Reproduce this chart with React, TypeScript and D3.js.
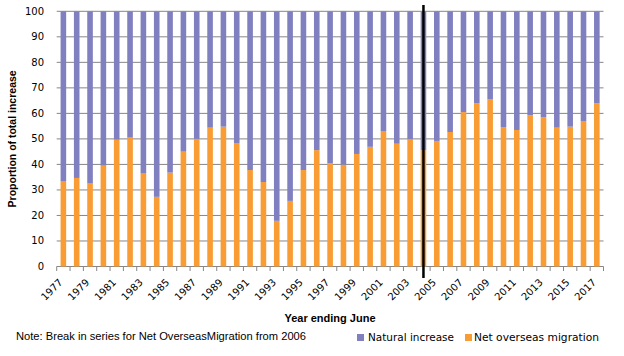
import React from "react";
import * as d3 from "d3";

const years = [
  "1977", "1978", "1979", "1980", "1981", "1982", "1983", "1984", "1985", "1986",
  "1987", "1988", "1989", "1990", "1991", "1992", "1993", "1994", "1995", "1996",
  "1997", "1998", "1999", "2000", "2001", "2002", "2003", "2004", "2005", "2006",
  "2007", "2008", "2009", "2010", "2011", "2012", "2013", "2014", "2015", "2016", "2017",
];

const netOverseasMigration = [
  33.5, 34.7, 32.5, 39.5, 49.7, 50.5, 36.4, 27.3, 36.8, 45.0,
  50.0, 54.4, 54.8, 48.4, 37.8, 33.1, 17.9, 25.7, 37.8, 45.6,
  40.5, 39.9, 44.1, 46.9, 53.1, 48.1, 49.9, 45.6, 49.2, 52.7,
  60.5, 64.0, 65.6, 54.6, 53.5, 59.3, 58.5, 54.4, 54.8, 57.0, 64.0,
];

const naturalIncrease = [
  66.5, 65.3, 67.5, 60.5, 50.3, 49.5, 63.6, 72.7, 63.2, 55.0,
  50.0, 45.6, 45.2, 51.6, 62.2, 66.9, 82.1, 74.3, 62.2, 54.4,
  59.5, 60.1, 55.9, 53.1, 46.9, 51.9, 50.1, 54.4, 50.8, 47.3,
  39.5, 36.0, 34.4, 45.4, 46.5, 40.7, 41.5, 45.6, 45.2, 43.0, 36.0,
];

const yTicks = [0, 10, 20, 30, 40, 50, 60, 70, 80, 90, 100];
const labelYears = years.filter((_, i) => i % 2 === 0);
const breakYear = "2004";

const seriesNames = ["Net overseas migration", "Natural increase"];
const colors = { nom: "#F89C33", nat: "#8080C0" };

export default function App() {
  const W = 624, H = 356;
  const left = 56.7, right = 603.5, top = 11.3, bottom = 266.5;

  const x = d3.scaleBand<string>().domain(years).range([left, right]).paddingInner(0.58).paddingOuter(0.29);
  const xStep = d3.scaleBand<string>().domain(years).range([left, right]).padding(0);
  const y = d3.scaleLinear().domain([0, 100]).range([bottom, top]);

  const rows = years.map((yr, i) => ({ year: yr, nom: netOverseasMigration[i], nat: naturalIncrease[i] }));
  const stack = d3.stack<any>().keys(["nom", "nat"])(rows as any);

  const boundaries = years.map((yr) => xStep(yr)!).concat([right]);
  const font = "'DejaVu Sans', sans-serif";
  const font2 = "'Liberation Sans', Arial, sans-serif";

  return (
    <svg width={W} height={H} style={{ position: "absolute", left: 0, top: 0, background: "#fff" }}>
      {/* gridlines */}
      {yTicks.map((t) => (
        <line key={t} x1={left} x2={right} y1={y(t)} y2={y(t)} stroke="#868686" strokeWidth={1} />
      ))}
      {/* y tick labels */}
      {yTicks.map((t) => (
        <text key={"l" + t} x={44} y={y(t)} dy="0.35em" textAnchor="end" fontFamily={font} fontSize={10} fill="#000">
          {t}
        </text>
      ))}
      {/* bars */}
      {stack.map((layer) =>
        layer.map((d: any, i: number) => (
          <rect
            key={layer.key + i}
            x={x(years[i])!}
            width={x.bandwidth()}
            y={y(d[1])}
            height={y(d[0]) - y(d[1])}
            fill={layer.key === "nom" ? colors.nom : colors.nat}
          />
        ))
      )}
      {/* x axis ticks */}
      {boundaries.map((b, i) => (
        <line key={"t" + i} x1={b} x2={b} y1={bottom} y2={bottom + 4.5} stroke="#868686" strokeWidth={1} />
      ))}
      {/* x labels */}
      {labelYears.map((yr) => {
        const cx = xStep(yr)! + xStep.bandwidth() / 2;
        return (
          <text
            key={"x" + yr}
            transform={`translate(${cx},${283}) rotate(-45)`}
            textAnchor="end"
            fontFamily={font}
            fontSize={10}
            fill="#000"
          >
            {yr}
          </text>
        );
      })}
      {/* break line */}
      <line
        x1={xStep(breakYear)! + xStep.bandwidth() / 2}
        x2={xStep(breakYear)! + xStep.bandwidth() / 2}
        y1={5}
        y2={278}
        stroke="#000"
        strokeWidth={2.5}
      />
      {/* axis titles */}
      <text
        transform={`translate(16,${(top + bottom) / 2}) rotate(-90)`}
        textAnchor="middle"
        fontFamily={font2}
        fontWeight="bold"
        fontSize={10.5}
        fill="#000"
      >
        Proportion of total increase
      </text>
      <text x={330} y={322} textAnchor="middle" fontFamily={font2} fontWeight="bold" fontSize={11} fill="#000">
        Year ending June
      </text>
      <text x={16} y={340} fontFamily={font2} fontSize={10.5} textLength={290} lengthAdjust="spacingAndGlyphs" fill="#000">
        Note: Break in series for Net OverseasMigration from 2006
      </text>
      {/* legend */}
      <rect x={357} y={334} width={7} height={7} fill={colors.nat} />
      <text x={368} y={341} fontFamily={font} fontSize={10} textLength={86} lengthAdjust="spacingAndGlyphs" fill="#000">
        {seriesNames[1]}
      </text>
      <rect x={465} y={334} width={7} height={7} fill={colors.nom} />
      <text x={474} y={341} fontFamily={font} fontSize={10} textLength={125} lengthAdjust="spacingAndGlyphs" fill="#000">
        {seriesNames[0]}
      </text>
    </svg>
  );
}
